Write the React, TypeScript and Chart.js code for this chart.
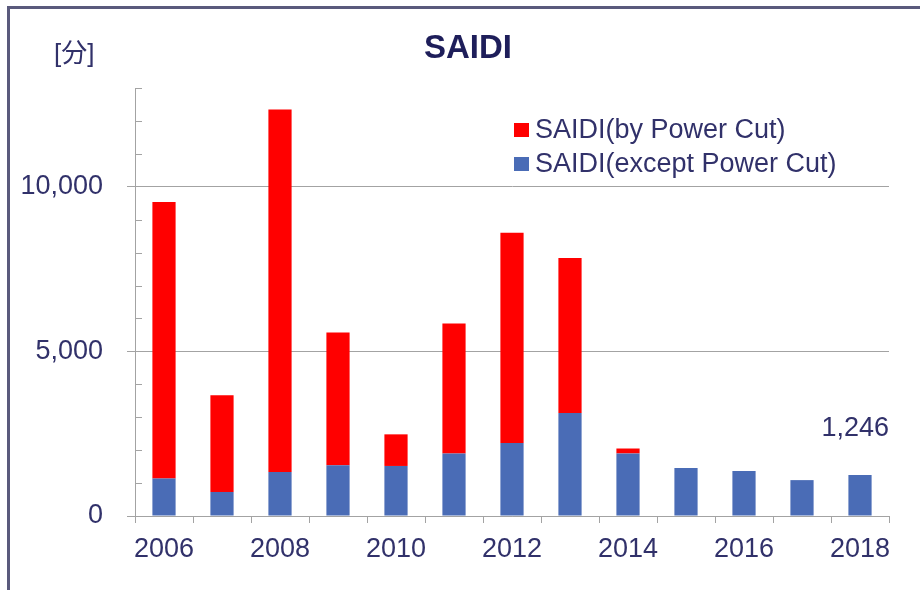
import React, { useEffect, useRef } from "react";
import { Chart, registerables } from "chart.js";

Chart.register(...registerables);

const years = ["2006", "2007", "2008", "2009", "2010", "2011", "2012", "2013", "2014", "2015", "2016", "2017", "2018"];
const exceptPowerCut = [1140, 730, 1340, 1540, 1520, 1900, 2220, 3130, 1900, 1460, 1370, 1090, 1246];
const byPowerCut = [8400, 2940, 11010, 4030, 960, 3950, 6380, 4710, 150, 0, 0, 0, 0];
const seriesLabels = ["SAIDI(except Power Cut)", "SAIDI(by Power Cut)"];
const yMax = 13000;
const yStep = 1000;
const yLabelStep = 5000;
const chartTitle = "SAIDI";
const unitLabel = "[分]";

const FONT = "'Liberation Sans', Arial, 'Noto Sans CJK JP', sans-serif";
const TEXT = "#31316a";
const BLUE = "#4a6cb6";
const RED = "#ff0000";
const GRID = "#a3a3a3";

const overlay = {
  id: "overlay",
  afterDraw(chart: any) {
    const { ctx, chartArea } = chart;
    const y = chart.scales.y;
    ctx.save();
    // minor inside ticks on y axis
    ctx.strokeStyle = GRID;
    ctx.lineWidth = 1;
    for (let v = yStep; v <= yMax; v += yStep) {
      if (v % yLabelStep === 0) continue;
      const py = Math.round(y.getPixelForValue(v)) + 0.5;
      ctx.beginPath();
      ctx.moveTo(chartArea.left, py);
      ctx.lineTo(chartArea.left + 7, py);
      ctx.stroke();
    }
    // title
    ctx.fillStyle = "#1e1e5a";
    ctx.font = `bold 33px ${FONT}`;
    ctx.textAlign = "center";
    ctx.textBaseline = "middle";
    ctx.fillText(chartTitle, 458, 40);
    // unit
    ctx.fillStyle = TEXT;
    ctx.font = `26px ${FONT}`;
    ctx.textAlign = "left";
    ctx.fillText(unitLabel, 44, 46);
    // legend (reverse order: top series first)
    const ds = chart.data.datasets;
    const items = [ds[1], ds[0]];
    const rowsY = [121, 155];
    ctx.font = `27px ${FONT}`;
    items.forEach((d: any, i: number) => {
      ctx.fillStyle = d.backgroundColor;
      ctx.fillRect(504, rowsY[i] - 7, 15, 14);
      ctx.fillStyle = TEXT;
      ctx.textAlign = "left";
      ctx.fillText(d.label, 525, rowsY[i] + 1);
    });
    // annotation for last total
    const last = years.length - 1;
    const total = exceptPowerCut[last] + byPowerCut[last];
    ctx.font = `27px ${FONT}`;
    ctx.textAlign = "right";
    ctx.fillStyle = TEXT;
    ctx.fillText(total.toLocaleString("en-US"), chartArea.right, y.getPixelForValue(total) - 46);
    ctx.restore();
  },
};

export default function App() {
  const ref = useRef<HTMLCanvasElement | null>(null);
  useEffect(() => {
    if (!ref.current) return;
    const chart = new Chart(ref.current, {
      type: "bar",
      data: {
        labels: years,
        datasets: [
          { label: seriesLabels[0], data: exceptPowerCut, backgroundColor: BLUE, borderWidth: 0 },
          { label: seriesLabels[1], data: byPowerCut, backgroundColor: RED, borderWidth: 0 },
        ],
      },
      options: {
        animation: false,
        responsive: true,
        maintainAspectRatio: false,
        layout: { padding: { top: 79, right: 31, bottom: 14, left: 0 } },
        datasets: { bar: { barPercentage: 0.4, categoryPercentage: 1 } },
        plugins: { legend: { display: false }, tooltip: { enabled: false }, title: { display: false } },
        scales: {
          x: {
            stacked: true,
            grid: { offset: true, drawOnChartArea: false, drawTicks: true, tickLength: 7, color: GRID },
            border: { color: GRID },
            ticks: {
              autoSkip: false,
              maxRotation: 0,
              padding: 10,
              color: TEXT,
              font: { family: FONT, size: 27 },
              callback: (v: any, i: number) => (i % 2 === 0 ? years[i] : ""),
            },
            afterFit: (s: any) => {
              s.height = 60;
            },
          },
          y: {
            stacked: true,
            min: 0,
            max: yMax,
            grid: {
              color: (c: any) => (c.tick && c.tick.value % yLabelStep === 0 ? GRID : "rgba(0,0,0,0)"),
              tickLength: 8,
            },
            border: { color: GRID },
            ticks: {
              stepSize: yStep,
              autoSkip: false,
              padding: 24,
              color: TEXT,
              font: { family: FONT, size: 27 },
              callback: (v: any) => (Number(v) % yLabelStep === 0 ? Number(v).toLocaleString("en-US") : ""),
            },
            afterFit: (s: any) => {
              s.width = 125;
            },
          },
        },
      },
      plugins: [overlay],
    });
    return () => chart.destroy();
  }, []);
  return (
    <div
      style={{
        position: "absolute",
        left: 7,
        top: 6,
        width: 913,
        height: 584,
        boxSizing: "border-box",
        borderTop: "3px solid #5a5a7c",
        borderLeft: "3px solid #5a5a7c",
        background: "#fff",
      }}
    >
      <div style={{ position: "relative", width: 910, height: 581 }}>
        <canvas ref={ref} />
      </div>
    </div>
  );
}
